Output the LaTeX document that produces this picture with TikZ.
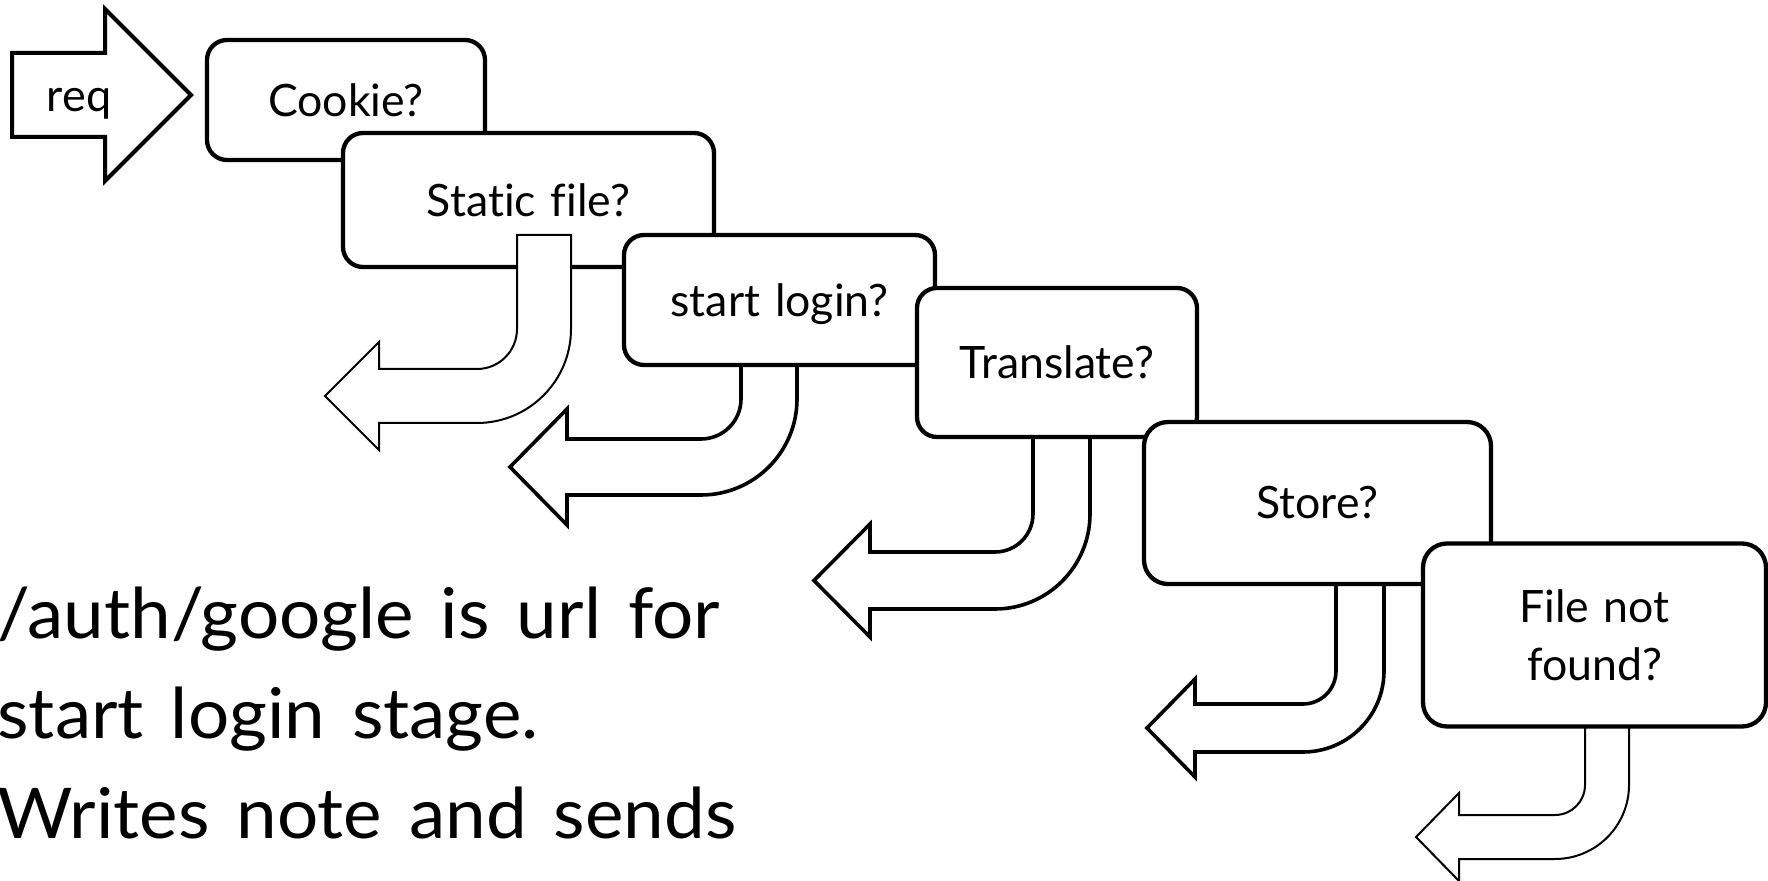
\documentclass[tikz,border=0pt]{standalone}
\usepackage{fontspec}
\setmainfont{Lato}[Ligatures=NoCommon, WordSpace=1.3]
\newfontfamily\notefont{Lato}[Ligatures=NoCommon, FakeStretch=1.04, WordSpace=1.45]
\newcommand\bentarrow[9]{% #1 style, #2 xi, #3 xo, #4 top, #5 yi, #6 ri, #7 head base x, #8 head extension, #9 tip x
  \pgfmathsetmacro\BAw{#3-#2}%
  \pgfmathsetmacro\BAyo{#5+\BAw}%
  \pgfmathsetmacro\BAro{#6+\BAw}%
  \pgfmathsetmacro\BAty{#5+\BAw/2}%
  \pgfmathsetmacro\BAcx{#2-#6}%
  \pgfmathsetmacro\BAcy{#5-#6}%
  \path[#1] (#2,#4) -- (#2,\BAcy)
    .. controls (#2,\BAcy+0.5523*#6) and (\BAcx+0.5523*#6,#5) .. (\BAcx,#5)
    -- (#7,#5) -- (#7,#5-#8) -- (#9,\BAty) -- (#7,\BAyo+#8) -- (#7,\BAyo)
    -- (\BAcx,\BAyo)
    .. controls (\BAcx+0.5523*\BAro,\BAyo) and (#3,\BAcy+0.5523*\BAro) .. (#3,\BAcy)
    -- (#3,#4) -- cycle;
}
\begin{document}
\begin{tikzpicture}[x=0.5pt,y=-0.5pt,
  box/.style={draw, fill=white, line width=2.15pt, rounded corners=10pt,
    inner sep=0pt, font=\fontsize{22.3pt}{29pt}\selectfont},
  bigbox/.style={box, rounded corners=12pt},
  thickarrow/.style={draw, fill=white, line width=1.8pt, line join=miter},
  thinarrow/.style={draw, fill=white, line width=1pt, line join=miter},
  note/.style={anchor=base west, inner sep=0pt, align=left,
    font=\notefont\fontsize{35pt}{50pt}\selectfont}]
\useasboundingbox (0,0) rectangle (1768,881);
% request arrow
\path[draw, fill=white, line width=2pt, line join=miter]
  (12,53) -- (105,53) -- (105,9) -- (191,95) -- (105,181) -- (105,137) -- (12,137) -- cycle;
\node[anchor=base, inner sep=0pt, font=\fontsize{22.5pt}{25pt}\selectfont] (req) at (79,112) {req};
% boxes and bent arrows
\node[box, minimum width=139pt, minimum height=60pt] (cookie) at (346,100) {Cookie?};
\node[box, minimum width=185.5pt, minimum height=67pt] (static) at (528.5,200) {Static file?};
\bentarrow{thinarrow}{517}{571}{235}{369}{40}{379}{27}{325}
\bentarrow{thickarrow}{741}{797}{365}{439}{40}{567}{30}{510}
\node[box, minimum width=155.5pt, minimum height=65pt, text depth=0pt] (login) at (779.5,300) {start login?};
\bentarrow{thickarrow}{1033}{1090}{437}{552}{38}{870}{28}{814}
\node[box, minimum width=140pt, minimum height=74.5pt] (translate) at (1057,362.5) {Translate?};
\bentarrow{thickarrow}{1336}{1384}{584}{704}{33}{1195}{25}{1147}
\node[bigbox, minimum width=173.5pt, minimum height=81pt] (store) at (1317.5,503) {Store?};
\bentarrow{thinarrow}{1585}{1629}{725}{815}{30}{1459}{22}{1416}
\node[bigbox, minimum width=171.5pt, minimum height=91.5pt, align=center] (notfound) at (1594.5,635) {File not\\found?};
% note text
\node[note] (notetext) at (-3,838) {/auth/google is url for\\start login stage.\\Writes note and sends};
\end{tikzpicture}
\end{document}
